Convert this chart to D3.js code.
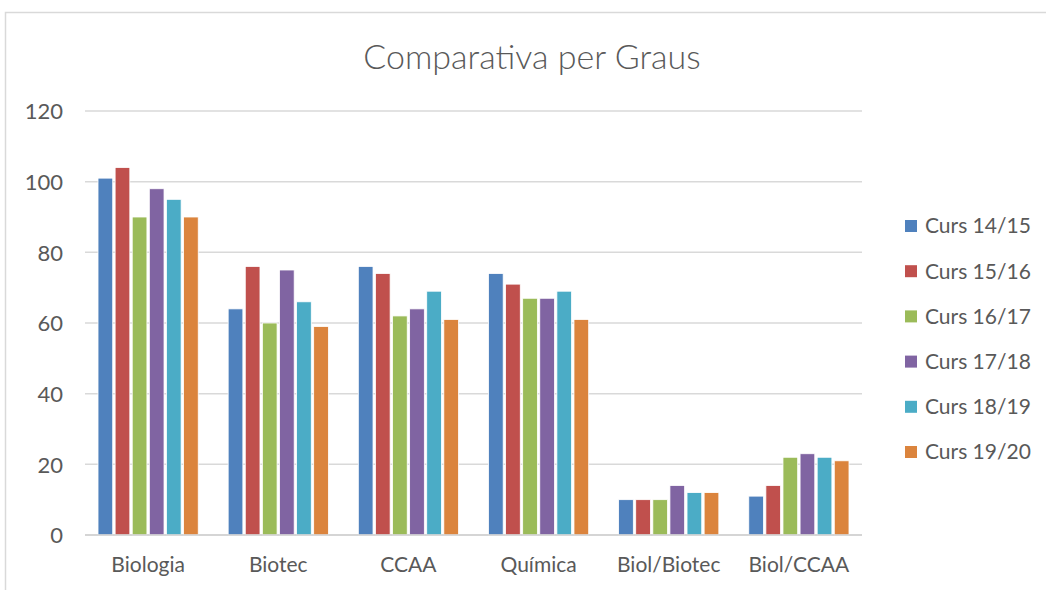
<!DOCTYPE html>
<html>
<head>
<meta charset="utf-8">
<script src="https://cdn.jsdelivr.net/npm/d3@7"></script>
<style>
  body { margin: 0; background: #fff; }
  text { font-family: Lato, "Open Sans", sans-serif; fill: #595959; }
</style>
</head>
<body>
<div class="content"></div>
<script>
// Data
const categories = ["Biologia", "Biotec", "CCAA", "Química", "Biol/Biotec", "Biol/CCAA"];
const seriesNames = ["Curs 14/15", "Curs 15/16", "Curs 16/17", "Curs 17/18", "Curs 18/19", "Curs 19/20"];
const curs1415 = [101, 64, 76, 74, 10, 11];
const curs1516 = [104, 76, 74, 71, 10, 14];
const curs1617 = [90, 60, 62, 67, 10, 22];
const curs1718 = [98, 75, 64, 67, 14, 23];
const curs1819 = [95, 66, 69, 69, 12, 22];
const curs1920 = [90, 59, 61, 61, 12, 21];
const yTicks = [0, 20, 40, 60, 80, 100, 120];
const colors = ["#4f81bd", "#c0504d", "#9bbb59", "#8064a2", "#4bacc6", "#db843d"];

const seriesValues = [curs1415, curs1516, curs1617, curs1718, curs1819, curs1920];

// Dimensions
const W = 1046, H = 590;
const margin = { top: 111, right: 184, bottom: 55, left: 85 };
const width = W - margin.left - margin.right;
const height = H - margin.top - margin.bottom;

const svg = d3.select(".content").append("svg")
  .attr("width", W)
  .attr("height", H);

// Chart border (only top + left visible in frame)
svg.append("path")
  .attr("d", `M5.5,${H} V12.5 H${W}`)
  .attr("fill", "none")
  .attr("stroke", "#d9d9d9")
  .attr("stroke-width", 1.5);

// Title
svg.append("text")
  .attr("x", 532)
  .attr("y", 69)
  .attr("text-anchor", "middle")
  .style("font-size", "34px")
  .style("font-weight", 300)
  .text("Comparativa per Graus");

const chart = svg.append("g")
  .attr("transform", `translate(${margin.left}, ${margin.top})`);

// Scales
const yScale = d3.scaleLinear().domain([0, 120]).range([height, 0]);

const xScale = d3.scaleBand()
  .domain(categories)
  .range([0, width])
  .paddingInner(0.23)
  .paddingOuter(0.1);

const xInner = d3.scaleBand()
  .domain(seriesNames)
  .range([0, xScale.bandwidth()])
  .paddingInner(0.14)
  .paddingOuter(0);

// Gridlines
chart.append("g")
  .selectAll("line")
  .data(yTicks)
  .join("line")
  .attr("x1", 0)
  .attr("x2", width)
  .attr("y1", (d) => yScale(d))
  .attr("y2", (d) => yScale(d))
  .attr("stroke", "#d9d9d9")
  .attr("stroke-width", 1.5);

// Y axis
const yAxis = d3.axisLeft(yScale)
  .tickValues(yTicks)
  .tickSize(0)
  .tickPadding(22);

chart.append("g")
  .call(yAxis)
  .call((g) => g.select(".domain").remove())
  .selectAll("text")
  .style("font-size", "22px")
  .attr("dy", "0.35em");

// Bars
const groups = chart.selectAll(".group")
  .data(categories)
  .join("g")
  .attr("class", "group")
  .attr("transform", (d) => `translate(${xScale(d)}, 0)`);

groups.selectAll("rect")
  .data((c, ci) => seriesNames.map((s, si) => ({ series: s, value: seriesValues[si][ci], i: si })))
  .join("rect")
  .attr("x", (d) => xInner(d.series))
  .attr("y", (d) => yScale(d.value))
  .attr("width", xInner.bandwidth())
  .attr("height", (d) => height - yScale(d.value))
  .attr("fill", (d) => colors[d.i])
  .attr("stroke", "#fff")
  .attr("stroke-width", 0.8);

// Baseline
chart.append("line")
  .attr("x1", 0)
  .attr("x2", width)
  .attr("y1", height)
  .attr("y2", height)
  .attr("stroke", "#d0d0d0")
  .attr("stroke-width", 1.5);

// X axis
const xAxis = d3.axisBottom(xScale)
  .tickSize(0)
  .tickPadding(22);

chart.append("g")
  .attr("transform", `translate(0, ${height})`)
  .call(xAxis)
  .call((g) => g.select(".domain").remove())
  .selectAll("text")
  .style("font-size", "21px");

// Legend
const legend = svg.append("g")
  .attr("transform", "translate(905, 226)");

const legendItems = legend.selectAll("g")
  .data(seriesNames)
  .join("g")
  .attr("transform", (d, i) => `translate(0, ${i * 45.2})`);

legendItems.append("rect")
  .attr("x", 0)
  .attr("y", -6)
  .attr("width", 12)
  .attr("height", 12)
  .attr("fill", (d, i) => colors[i]);

legendItems.append("text")
  .attr("x", 20)
  .attr("dy", "0.35em")
  .style("font-size", "21px")
  .text((d) => d);
</script>
</body>
</html>
